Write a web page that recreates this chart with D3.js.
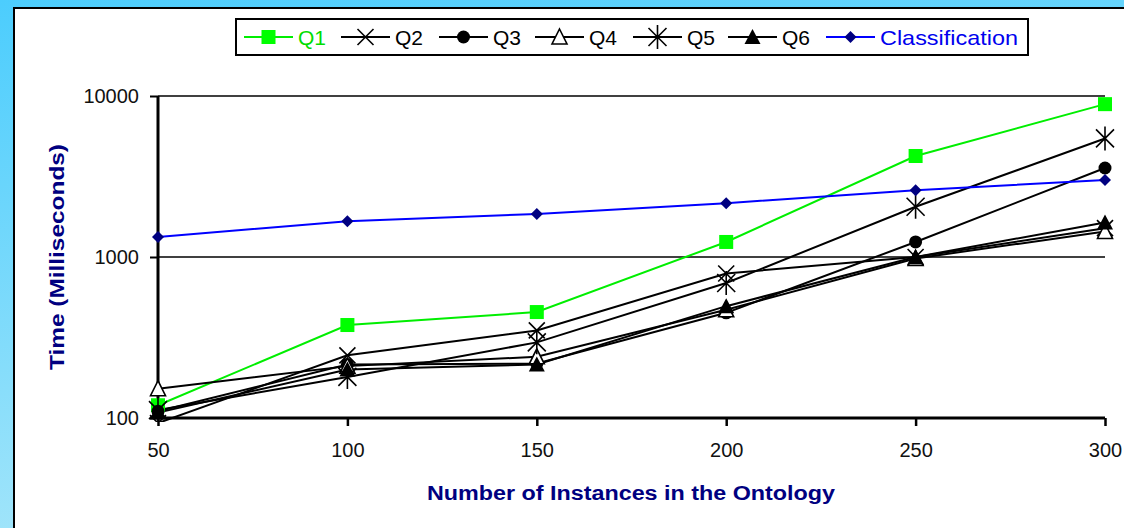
<!DOCTYPE html>
<html><head><meta charset="utf-8">
<script src="https://cdn.jsdelivr.net/npm/d3@7/dist/d3.min.js"></script>
<style>html,body{margin:0;padding:0;overflow:hidden;}svg{display:block;font-family:"Liberation Sans",Arial,sans-serif;}</style>
</head><body>
<svg id="c" width="1124" height="528"></svg>
<script>
const categories = [50, 100, 150, 200, 250, 300];
const q1 = [120, 378, 455, 1240, 4240, 8900];
const q2 = [93, 245, 350, 790, 1000, 1510];
const q3 = [110, 215, 218, 450, 1240, 3570];
const q4 = [152, 210, 240, 470, 980, 1440];
const q5 = [112, 180, 295, 690, 2050, 5450];
const q6 = [108, 200, 215, 495, 1000, 1640];
const classification = [1330, 1670, 1850, 2160, 2600, 3010];
const yTicks = [100, 1000, 10000];

const series = [
  {name:"Q1", values:q1, line:"#00ee00", text:"#00dd00", marker:"square"},
  {name:"Q2", values:q2, line:"#000", text:"#000", marker:"x"},
  {name:"Q3", values:q3, line:"#000", text:"#000", marker:"circle"},
  {name:"Q4", values:q4, line:"#000", text:"#000", marker:"triOpen"},
  {name:"Q5", values:q5, line:"#000", text:"#000", marker:"star"},
  {name:"Q6", values:q6, line:"#000", text:"#000", marker:"tri"},
  {name:"Classification", values:classification, line:"#0000ff", text:"#0000ee", marker:"diamond"}
];

const svg = d3.select("#c");
const defs = svg.append("defs");
const g = defs.append("linearGradient").attr("id","bg").attr("x1","0").attr("y1","0").attr("x2","0.3").attr("y2","1");
g.append("stop").attr("offset","0").attr("stop-color","#4ccdfd");
g.append("stop").attr("offset","1").attr("stop-color","#a6e6fa");
defs.append("clipPath").attr("id","plotclip").append("rect")
  .attr("x",130).attr("y",80).attr("width",1000).attr("height",342);
svg.append("rect").attr("width",1124).attr("height",528).attr("fill","url(#bg)");
svg.append("rect").attr("x",14).attr("y",8).attr("width",1124).attr("height",540)
  .attr("fill","#fff").attr("stroke","#000").attr("stroke-width",2);

const x = d3.scaleLinear().domain([50,300]).range([158,1105]);
const y = d3.scaleLog().domain([100,10000]).range([418,96]);

// gridlines
svg.append("g").selectAll("line").data([1000,10000]).join("line")
  .attr("x1",x(50)).attr("x2",x(300)).attr("y1",d=>y(d)).attr("y2",d=>y(d))
  .attr("stroke","#000").attr("stroke-width",1.5);

const tickFont = 20;
// y axis
const ya = svg.append("g").attr("transform",`translate(${x(50)},0)`)
  .call(d3.axisLeft(y).tickValues(yTicks).tickFormat(d3.format("d")).tickSize(8).tickPadding(11));
ya.select(".domain").attr("stroke-width",3).attr("d",`M0,${y(10000)}V${y(100)}`);
ya.selectAll(".tick line").attr("stroke-width",2);
ya.selectAll(".tick text").attr("font-size",tickFont).attr("fill","#111").attr("font-family","Liberation Sans, Arial, sans-serif");

// x axis
const xa = svg.append("g").attr("transform",`translate(0,${y(100)})`)
  .call(d3.axisBottom(x).tickValues(categories).tickFormat(d3.format("d")).tickSize(8).tickPadding(17));
xa.select(".domain").attr("stroke-width",3).attr("d",`M${x(50)},0H${x(300)}`);
xa.selectAll(".tick line").attr("stroke-width",2.5);
xa.selectAll(".tick text").attr("font-size",tickFont).attr("fill","#111").attr("font-family","Liberation Sans, Arial, sans-serif");

function drawMarker(sel, type){
  if(type==="square"){
    sel.append("rect").attr("x",-7).attr("y",-7).attr("width",14).attr("height",14).attr("fill","#00ff00");
  } else if(type==="x"){
    sel.append("path").attr("d","M-8,-8L8,8M-8,8L8,-8").attr("stroke","#000").attr("stroke-width",1.6).attr("fill","none");
  } else if(type==="circle"){
    sel.append("circle").attr("r",6.5).attr("fill","#000");
  } else if(type==="triOpen"){
    sel.append("path").attr("d","M0,-8L7.5,7L-7.5,7Z").attr("fill","#fff").attr("stroke","#000").attr("stroke-width",1.6);
  } else if(type==="tri"){
    sel.append("path").attr("d","M0,-8L8,7L-8,7Z").attr("fill","#000");
  } else if(type==="star"){
    sel.append("path").attr("d","M-9,-9L9,9M-9,9L9,-9M0,-12V12").attr("stroke","#000").attr("stroke-width",1.6).attr("fill","none");
  } else if(type==="diamond"){
    sel.append("path").attr("d","M0,-6L6,0L0,6L-6,0Z").attr("fill","#000080");
  }
}

const plot = svg.append("g").attr("clip-path","url(#plotclip)");
const line = d3.line().x((d,i)=>x(categories[i])).y(d=>y(d));
series.forEach(s=>{
  plot.append("path").datum(s.values).attr("d",line).attr("fill","none")
    .attr("stroke",s.line).attr("stroke-width",2);
});
series.forEach(s=>{
  s.values.forEach((v,i)=>{
    const m = plot.append("g").attr("transform",`translate(${x(categories[i])},${y(v)})`);
    drawMarker(m, s.marker);
  });
});

// legend
const lg = svg.append("g");
lg.append("rect").attr("x",236).attr("y",19).attr("width",792).attr("height",36)
  .attr("fill","#fff").attr("stroke","#000").attr("stroke-width",2);
const legX = [244, 341, 439, 535, 633, 728, 826];
series.forEach((s,i)=>{
  const lx = legX[i];
  lg.append("line").attr("x1",lx).attr("x2",lx+49).attr("y1",37).attr("y2",37).attr("stroke",s.line).attr("stroke-width",2);
  const m = lg.append("g").attr("transform",`translate(${lx+24.5},37)`);
  drawMarker(m, s.marker);
  const t = lg.append("text").attr("x",lx+54).attr("y",44.5).attr("font-size",21).attr("fill",s.text).text(s.name);
  if(s.name==="Classification") t.attr("textLength",138).attr("lengthAdjust","spacingAndGlyphs");
});

// axis titles
svg.append("text").attr("transform",`translate(64,257) rotate(-90)`).attr("text-anchor","middle")
  .attr("font-size",20).attr("font-weight","bold").attr("fill","#000080")
  .attr("textLength",226).attr("lengthAdjust","spacingAndGlyphs").text("Time (Milliseconds)");
svg.append("text").attr("x",631).attr("y",500).attr("text-anchor","middle")
  .attr("font-size",20).attr("font-weight","bold").attr("fill","#000080")
  .attr("textLength",408).attr("lengthAdjust","spacingAndGlyphs").text("Number of Instances in the Ontology");
</script>
</body></html>
